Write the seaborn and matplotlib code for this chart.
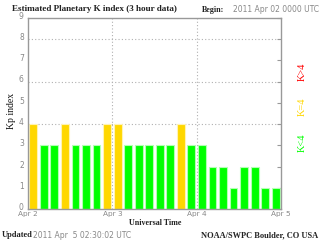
import numpy as np
import pandas as pd
import matplotlib
matplotlib.use("Agg")
import matplotlib.pyplot as plt
import matplotlib.colors as mcolors
import matplotlib.transforms as mtransforms
import seaborn as sns

# ---- data ----
kp_values = [4, 3, 3, 4, 3, 3, 3, 4,
             4, 3, 3, 3, 3, 3, 4, 3,
             3, 2, 2, 1, 2, 2, 1, 1]
day_labels = ["Apr 2", "Apr 3", "Apr 4", "Apr 5"]
y_ticks = [0, 1, 2, 3, 4, 5, 6, 7, 8, 9]
grid_levels = [4, 6, 8]
title_text = "Estimated Planetary K index (3 hour data)"
begin_label = "Begin:"
begin_value = "2011 Apr 02 0000 UTC"
updated_label = "Updated"
updated_value = "2011 Apr  5 02:30:02 UTC"
credit_text = "NOAA/SWPC Boulder, CO USA"
xlabel_text = "Universal Time"
ylabel_text = "Kp index"
level_names = ["K<4", "K=4", "K>4"]
level_colors = {"K<4": "#00ff00", "K=4": "#ffd700", "K>4": "#ff0000"}

def level_of(v):
    return "K<4" if v < 4 else ("K=4" if v == 4 else "K>4")

df = pd.DataFrame({
    "slot": np.arange(len(kp_values)),
    "kp": kp_values,
    "level": [level_of(v) for v in kp_values],
})

sns.set_style("white")
plt.rcParams["font.family"] = ["DejaVu Sans"]

fig = plt.figure(figsize=(3.2, 2.4), dpi=100)
ax = fig.add_axes([28 / 320, 1 - 209 / 240, (281 - 28) / 320, (209 - 17.75) / 240])

sns.barplot(data=df, x="slot", y="kp", hue="level", palette=level_colors,
            dodge=False, width=0.74, legend=False, ax=ax, saturation=1)

for p in ax.patches:
    fc = np.array(mcolors.to_rgb(p.get_facecolor()))
    p.set_edgecolor(tuple(fc + (1 - fc) * 0.7))
    p.set_linewidth(0.8)
    p.set_zorder(1)

n = len(kp_values)
per_day = 8
ax.set_xlim(-0.5, n - 0.5)
ax.set_ylim(0, 9)

# gridlines
for g in grid_levels:
    ax.axhline(g, color="#b0b0b0", lw=0.8, ls=(0, (1, 2)), zorder=0)
for d in range(1, len(day_labels) - 1):
    ax.axvline(d * per_day - 0.5, color="#b0b0b0", lw=0.8, ls=(0, (1, 2)), zorder=0)

ax.set_xticks([d * per_day - 0.5 for d in range(len(day_labels))])
ax.set_xticklabels(day_labels)
ax.set_xticks(np.arange(n), minor=True)
ax.set_yticks(y_ticks)
ax.set_yticklabels([str(t) for t in y_ticks])

ax.tick_params(axis="both", which="major", direction="in", length=3, width=0.8,
               color="#999999", labelcolor="#888888", labelsize=5.5, pad=2)
ax.tick_params(axis="y", right=True, pad=3)
ax.tick_params(axis="x", which="minor", direction="in", length=3, width=0.8,
               color="white", bottom=True)
ax.tick_params(axis="x", which="major", pad=1.5, labelsize=5.3)

# y tick labels sit slightly above their ticks, as in the reference
shift = mtransforms.ScaledTranslation(0, 2.5 / 100, fig.dpi_scale_trans)
for lbl in ax.get_yticklabels():
    lbl.set_transform(lbl.get_transform() + shift)

for s in ax.spines.values():
    s.set_color("#999999")
    s.set_linewidth(1.0)

ax.set_xlabel("")
ax.set_ylabel("")

serif = ["Liberation Serif", "DejaVu Serif"]
fig.text(12 / 320, 1 - 9 / 240, title_text, family=serif, fontsize=6.6,
         weight="bold", ha="left", va="center", color="#222222")
fig.text(202 / 320, 1 - 10 / 240, begin_label, family=serif, fontsize=5.8,
         weight="bold", ha="left", va="center", color="#222222")
fig.text(233 / 320, 1 - 10 / 240, begin_value, fontsize=5.5,
         ha="left", va="center", color="#888888")
fig.text(155 / 320, 1 - 223 / 240, xlabel_text, family=serif, fontsize=5.8,
         weight="bold", ha="center", va="center", color="#222222")
fig.text(12 / 320, 1 - 111 / 240, ylabel_text, family=serif, fontsize=7,
         rotation=90, ha="center", va="center", color="#111111")
fig.text(2 / 320, 1 - 235 / 240, updated_label, family=serif, fontsize=6,
         weight="bold", ha="left", va="center", color="#222222")
fig.text(33 / 320, 1 - 235 / 240, updated_value, fontsize=5.5,
         ha="left", va="center", color="#888888")
fig.text(318 / 320, 1 - 235 / 240, credit_text, family=serif, fontsize=6,
         weight="bold", ha="right", va="center", color="#222222")

label_y = {"K>4": 72, "K=4": 107, "K<4": 143}
for name in level_names:
    fig.text(302 / 320, 1 - label_y[name] / 240, name, family=serif, fontsize=7.5,
             rotation=90, ha="center", va="center", color=level_colors[name])

fig.savefig("out.png", dpi=100)
